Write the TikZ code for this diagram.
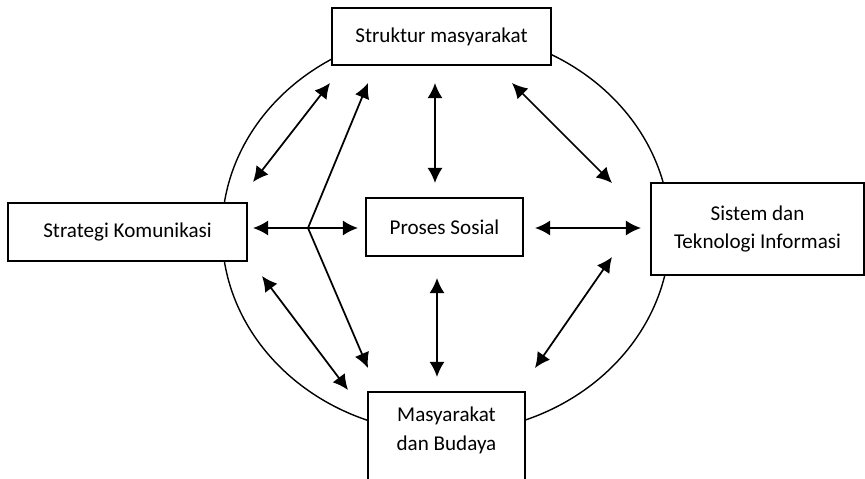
\documentclass[tikz,border=0pt]{standalone}
\usepackage{fontspec}
\setmainfont{Carlito}
\usetikzlibrary{arrows.meta}

\tikzset{
	kotak/.style={draw, line width=1.5pt, fill=white, align=center, inner sep=0pt, font=\fontsize{18}{24.6}\selectfont},
	duaarah/.style={line width=1.5pt, {Latex[length=13pt,width=13pt]}-{Latex[length=13pt,width=13pt]}},
	satuarah/.style={line width=1.5pt, -{Latex[length=13pt,width=13pt]}}
}

\begin{document}
\begin{tikzpicture}[x=0.03cm,y=-0.03cm]
	\useasboundingbox (0,0) rectangle (865,479);
	\clip (0,0) rectangle (865,479);
	\draw[line width=1.2pt] (446,232) ellipse [x radius=224, y radius=201];

	\node[kotak, minimum width=6.57cm, minimum height=1.71cm] (struktur) at (441.5,36.5) {Struktur masyarakat};
	\node[kotak, minimum width=7.17cm, minimum height=1.74cm] (strategi) at (127.5,232) {Strategi Komunikasi};
	\node[kotak, minimum width=4.71cm, minimum height=1.74cm] (proses) at (444.5,227) {Proses Sosial};
	\node[kotak, minimum width=6.39cm, minimum height=2.76cm] (sistem) at (757.5,229) {Sistem dan\\Teknologi Informasi};
	\node[kotak, anchor=north, minimum width=4.71cm, inner ysep=13pt, text depth=3cm] (masyarakat) at (446.5,391) {Masyarakat\\dan Budaya};

	\coordinate (cabang) at (308,228);
	\coordinate (st-kiri) at (253,228);
	\coordinate (pr-kiri) at (358,228);
	\coordinate (pr-kanan) at (535,228);
	\coordinate (si-kiri) at (641,228);
	\coordinate (st-atas) at (253,182);
	\coordinate (sm-kiri) at (330,83);
	\coordinate (sm-cabang) at (368,83);
	\coordinate (sm-tengah) at (435,83);
	\coordinate (pr-atas) at (435,183);
	\coordinate (sm-kanan) at (512,83);
	\coordinate (si-atas) at (612,183);
	\coordinate (st-bawah) at (262,276);
	\coordinate (mb-kiri) at (348,390);
	\coordinate (mb-cabang) at (368,368);
	\coordinate (pr-bawah) at (437,278);
	\coordinate (mb-tengah) at (437,377);
	\coordinate (mb-kanan) at (535,368);
	\coordinate (si-bawah) at (612,257);

	\draw[duaarah] (st-kiri) -- (pr-kiri);
	\draw[duaarah] (pr-kanan) -- (si-kiri);
	\draw[duaarah] (st-atas) -- (sm-kiri);
	\draw[satuarah] (cabang) -- (sm-cabang);
	\draw[satuarah] (cabang) -- (mb-cabang);
	\draw[duaarah] (sm-tengah) -- (pr-atas);
	\draw[duaarah] (sm-kanan) -- (si-atas);
	\draw[duaarah] (st-bawah) -- (mb-kiri);
	\draw[duaarah] (pr-bawah) -- (mb-tengah);
	\draw[duaarah] (mb-kanan) -- (si-bawah);
\end{tikzpicture}
\end{document}
